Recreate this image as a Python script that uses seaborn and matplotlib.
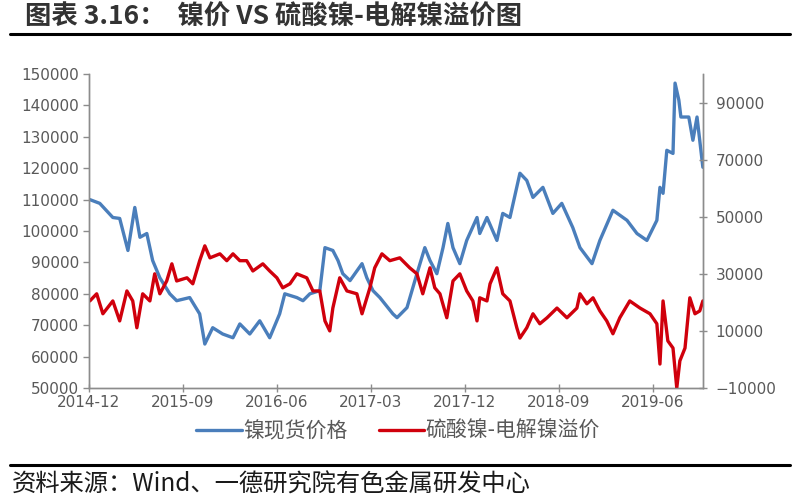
import pandas as pd
import seaborn as sns
import matplotlib.pyplot as plt
import matplotlib.dates as mdates
from matplotlib.lines import Line2D

# 镍现货价格 (left axis)
nickel_dates = [
    "2014-12-04", "2015-01-02", "2015-02-09", "2015-03-01", "2015-03-25", "2015-04-14", "2015-04-29",
    "2015-05-19", "2015-06-05", "2015-06-26", "2015-07-25", "2015-08-14", "2015-09-21", "2015-10-20",
    "2015-11-04", "2015-11-27", "2015-12-26", "2016-01-25", "2016-02-14", "2016-03-14", "2016-04-12",
    "2016-05-11", "2016-06-09", "2016-06-24", "2016-07-29", "2016-08-16", "2016-09-05", "2016-10-04",
    "2016-10-19", "2016-11-11", "2016-11-26", "2016-12-10", "2016-12-31", "2017-02-04", "2017-02-18",
    "2017-03-08", "2017-03-28", "2017-05-05", "2017-05-17", "2017-06-15", "2017-07-14", "2017-08-06",
    "2017-08-21", "2017-09-10", "2017-09-28", "2017-10-12", "2017-10-27", "2017-11-16", "2017-12-06",
    "2018-01-05", "2018-01-13", "2018-02-03", "2018-03-04", "2018-03-21", "2018-04-11", "2018-05-10",
    "2018-05-30", "2018-06-17", "2018-07-16", "2018-08-14", "2018-09-09", "2018-10-11", "2018-11-01",
    "2018-12-06", "2018-12-29", "2019-02-05", "2019-03-18", "2019-04-16", "2019-05-15", "2019-06-13",
    "2019-06-22", "2019-07-01", "2019-07-12", "2019-07-30", "2019-08-05", "2019-08-16", "2019-08-22",
    "2019-09-14", "2019-09-26", "2019-10-08", "2019-10-25",
]
nickel_price = [
    110000, 108800, 104300, 104000, 93800, 107500, 98000, 99200, 90600, 85100,
    80000, 77800, 78800, 73600, 64000, 69200, 67200, 66000, 70400, 67200,
    71400, 66000, 73600, 80000, 78800, 77800, 80000, 81000, 94700, 93800,
    90600, 86400, 84200, 89600, 85100, 81000, 78800, 73600, 72400, 75600,
    86400, 94700, 90600, 86400, 94700, 102400, 94700, 89600, 97000, 104300,
    99200, 104300, 97000, 105600, 104300, 118400, 116100, 110700, 113900, 105600,
    108800, 101100, 94700, 89600, 97000, 106600, 103400, 99200, 97000, 103400,
    113900, 112000, 125700, 124700, 147100, 141700, 136300, 136300, 128900, 136300,
    120300,
]

# 硫酸镍-电解镍溢价 (right axis)
premium_dates = [
    "2014-12-04", "2014-12-24", "2015-01-11", "2015-02-09", "2015-03-01", "2015-03-22", "2015-04-08",
    "2015-04-20", "2015-05-07", "2015-05-28", "2015-06-11", "2015-06-26", "2015-07-16", "2015-07-31",
    "2015-08-14", "2015-09-13", "2015-09-30", "2015-10-20", "2015-11-04", "2015-11-19", "2015-12-18",
    "2016-01-07", "2016-01-25", "2016-02-14", "2016-03-05", "2016-03-23", "2016-04-21", "2016-05-11",
    "2016-06-01", "2016-06-18", "2016-07-09", "2016-07-29", "2016-08-27", "2016-09-14", "2016-10-04",
    "2016-10-19", "2016-11-02", "2016-11-11", "2016-12-01", "2016-12-22", "2017-01-20", "2017-02-04",
    "2017-02-27", "2017-03-13", "2017-04-03", "2017-04-26", "2017-05-25", "2017-06-23", "2017-07-14",
    "2017-07-31", "2017-08-21", "2017-09-04", "2017-09-19", "2017-10-09", "2017-10-27", "2017-11-16",
    "2017-12-06", "2017-12-24", "2018-01-05", "2018-01-13", "2018-02-03", "2018-02-12", "2018-03-04",
    "2018-03-21", "2018-04-11", "2018-05-01", "2018-05-10", "2018-05-30", "2018-06-17", "2018-07-07",
    "2018-07-28", "2018-08-26", "2018-09-24", "2018-10-23", "2018-11-01", "2018-11-21", "2018-12-09",
    "2018-12-29", "2019-01-18", "2019-02-05", "2019-02-25", "2019-03-26", "2019-04-25", "2019-05-24",
    "2019-06-13", "2019-06-22", "2019-07-01", "2019-07-15", "2019-07-30", "2019-08-10", "2019-08-19",
    "2019-09-03", "2019-09-17", "2019-10-02", "2019-10-16", "2019-10-25",
]
premium_value = [
    20500, 23000, 16000, 20500, 13500, 24000, 20500, 11100, 23000, 20500,
    30000, 23000, 27500, 33500, 27500, 28600, 26500, 34600, 39800, 35600,
    37000, 34600, 37000, 34600, 34600, 31000, 33500, 31000, 28600, 25100,
    26500, 30000, 28600, 24000, 24000, 13500, 10000, 18000, 28600, 24000,
    23000, 16000, 25100, 32100, 37000, 34600, 35600, 32100, 30000, 23000,
    32100, 25100, 23000, 14600, 27500, 30000, 24000, 20500, 13500, 21600,
    20500, 26500, 32100, 23000, 20500, 11100, 7500, 11100, 16000, 12500,
    14600, 18000, 14600, 18000, 23000, 19500, 21600, 17000, 13500, 9000,
    14600, 20500, 18000, 16000, 12500, -1600, 20500, 6500, 4000, -10000,
    -500, 4000, 21600, 16000, 17000, 20500,
]

tick_dates = ["2014-12-01", "2015-09-01", "2016-06-01", "2017-03-01", "2017-12-01", "2018-09-01", "2019-06-01"]
left_ticks = list(range(50000, 150001, 10000))
right_ticks = list(range(-10000, 90001, 20000))

series_names = ["镍现货价格", "硫酸镍-电解镍溢价"]
title = "图表 3.16：  镍价 VS 硫酸镍-电解镍溢价图"
source = "资料来源：Wind、一德研究院有色金属研发中心"

blue = "#4A7EBB"
red = "#D0000C"
axis_grey = "#8C8C8C"
label_grey = "#595959"

sns.set_style("white")
plt.rcParams["font.family"] = ["Noto Sans CJK SC", "DejaVu Sans"]

nickel = pd.DataFrame({"date": pd.to_datetime(nickel_dates), "price": nickel_price})
premium = pd.DataFrame({"date": pd.to_datetime(premium_dates), "value": premium_value})

fig = plt.figure(figsize=(8, 5), dpi=100)
ax = fig.add_axes([0.111, 0.224, 0.768, 0.628])
ax2 = ax.twinx()

sns.lineplot(data=nickel, x="date", y="price", ax=ax, color=blue, linewidth=2.4, legend=False)
sns.lineplot(data=premium, x="date", y="value", ax=ax2, color=red, linewidth=2.4, legend=False)

ax.set_xlim(pd.Timestamp("2014-12-01"), pd.Timestamp("2019-10-26"))
ax.set_ylim(50000, 150000)
ax2.set_ylim(-10000, 100000)
ax.set_yticks(left_ticks)
ax2.set_yticks(right_ticks)
ax.set_xticks(pd.to_datetime(tick_dates))
ax.xaxis.set_major_formatter(mdates.DateFormatter("%Y-%m"))
ax.set_xlabel("")
ax.set_ylabel("")
ax2.set_ylabel("")

for a in (ax, ax2):
    a.spines["top"].set_visible(False)
    for s in ("left", "right", "bottom"):
        a.spines[s].set_color(axis_grey)
        a.spines[s].set_linewidth(1.0)
    a.grid(False)

ax.tick_params(axis="y", direction="out", length=4, width=1, color=axis_grey,
               labelsize=11, labelcolor=label_grey, pad=3, left=True)
ax.tick_params(axis="x", direction="inout", length=6, width=1, color=axis_grey,
               labelsize=11, labelcolor=label_grey, pad=2, bottom=True)
ax2.tick_params(axis="y", direction="inout", length=6, width=1, color=axis_grey,
                labelsize=11, labelcolor=label_grey, pad=6, right=True)
for lbl in ax.get_xticklabels() + ax.get_yticklabels() + ax2.get_yticklabels():
    lbl.set_fontfamily("DejaVu Sans")

handles = [Line2D([], [], color=blue, lw=2.4), Line2D([], [], color=red, lw=2.4)]
fig.legend(handles, series_names, loc="center", bbox_to_anchor=(0.4975, 0.138), ncol=2,
           frameon=False, fontsize=15, handlelength=2.2, handletextpad=0.05, columnspacing=1.5,
           labelcolor=label_grey)

fig.text(0.031, 0.965, title, fontsize=19, color="#333333", fontweight="bold", va="center", ha="left")
fig.add_artist(Line2D([0.012, 0.988], [0.932, 0.932], color="black", lw=2.2))
fig.add_artist(Line2D([0.012, 0.988], [0.07, 0.07], color="black", lw=2.2))
fig.text(0.015, 0.031, source, fontsize=17.5, color="#1a1a1a", va="center", ha="left")

fig.savefig("out.png", dpi=100)
